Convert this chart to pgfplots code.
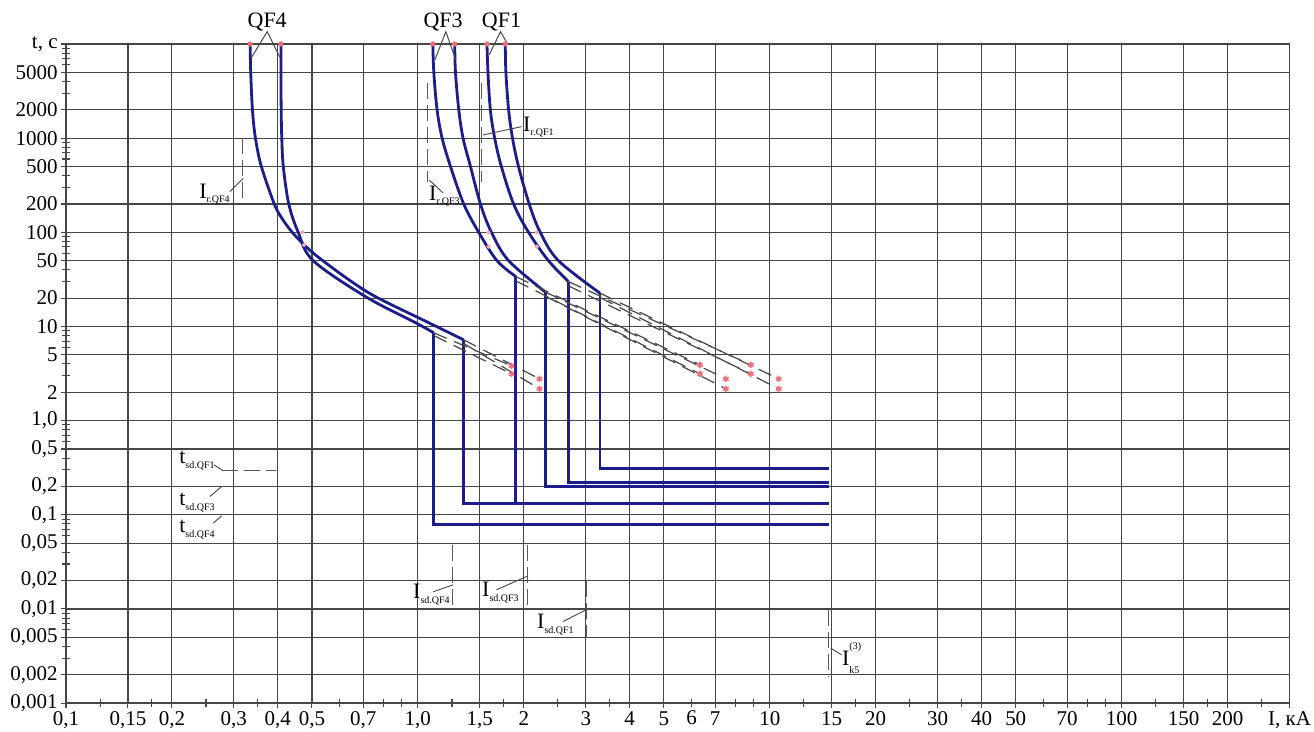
\documentclass[border=0pt]{standalone}
\usepackage{fontspec}
\setmainfont{Liberation Serif}
\usepackage{pgfplots}
\pgfplotsset{compat=1.18}
\definecolor{curve}{RGB}{28,28,138}
\definecolor{gridc}{RGB}{70,70,70}
\definecolor{dotc}{RGB}{238,110,125}
\newcommand\PX[2]{(rel axis cs:{(#1-66)/1224},{(703.3-#2)/659.3})}
\newcommand\sub[1]{\raisebox{-0.45ex}{\fontsize{5}{6}\selectfont #1}}
\begin{document}
\begin{tikzpicture}
\begin{axis}[
 xmode=log, ymode=log, scale only axis, width=612pt, height=329.65pt,
 xmin=0.1, xmax=300, ymin=0.001, ymax=10000,
 clip=false,
 axis line style={gridc, line width=0.65pt},
 grid=major,
 major grid style={gridc, line width=0.6pt},
 tick align=center, xtick pos=bottom, ytick pos=left,
 major tick length=5pt, minor tick length=4pt,
 every tick/.style={gridc, line width=0.55pt},
 xtick={0.1,0.15,0.2,0.3,0.4,0.5,0.7,1,1.5,2,3,4,5,7,10,15,20,30,40,50,70,100,150,200,300},
 xticklabels={{0,1},{0,15},{0,2},{0,3},{0,4},{0,5},{0,7},{1,0},{1,5},2,3,4,5,7,10,15,20,30,40,50,70,100,150,200,{I, кА}},
 extra x ticks={6}, extra x tick labels={6},
 extra x tick style={grid=none, major tick length=4pt},
 minor xtick={0.125,0.175,0.25,0.35,0.6,0.8,0.9,1.25,1.75,2.5,3.5,8,9,12.5,17.5,25,35,60,80,90,125,175,250},
 ytick={0.001,0.002,0.005,0.01,0.02,0.05,0.1,0.2,0.5,1,2,5,10,20,50,100,200,500,1000,2000,5000,10000},
 yticklabels={{0,001},{0,002},{0,005},{0,01},{0,02},{0,05},{0,1},{0,2},{0,5},{1,0},2,5,10,20,50,100,200,500,1000,2000,5000,{t, c}},
 minor ytick={0.003,0.004,0.006,0.007,0.008,0.009,0.03,0.04,0.06,0.07,0.08,0.09,0.3,0.4,0.6,0.7,0.8,0.9,3,4,6,7,8,9,30,40,60,70,80,90,300,400,600,700,800,900,3000,4000,6000,7000,8000,9000},
 ticklabel style={font=\fontsize{10.5}{12}\selectfont},
 yticklabel style={inner sep=1.5pt},
 xticklabel style={inner sep=1.5pt},
]
\pgfplotsset{cv/.style={curve, line width=1.4pt}, cvs/.style={curve, line width=1.4pt, smooth, tension=0.55}}
% ---- QF4 ----
\addplot[cvs] coordinates {(0.3337,10000) (0.3350,5000) (0.3388,2000) (0.3455,1000) (0.3592,500) (0.3909,200) (0.4119,138.8) (0.4396,100) (0.4753,73.5) (0.5243,53.5) (0.6376,31.24) (0.7603,20.6) (1.054,11.33) (1.350,7.205)};
\addplot[cv] coordinates {(1.350,7.205) (1.350,0.131) (14.76,0.131)};
\addplot[cvs] coordinates {(0.4083,10000) (0.4083,5000) (0.4089,2000) (0.4105,1000) (0.4146,500) (0.4297,200) (0.4571,100) (0.5041,50) (0.7124,20.6) (0.987,10.92) (1.110,8.551)};
\addplot[cv] coordinates {(1.110,8.551) (1.110,0.0783) (14.76,0.0783)};
% ---- QF3 ----
\addplot[cvs] coordinates {(1.103,10000) (1.110,5000) (1.134,2000) (1.172,1000) (1.238,500) (1.350,200) (1.489,100) (1.678,50) (1.899,33.86)};
\addplot[cv] coordinates {(1.899,33.86) (1.899,0.131) (14.76,0.131)};
\addplot[cvs] coordinates {(1.273,10000) (1.279,5000) (1.307,2000) (1.344,1000) (1.411,500) (1.506,200) (1.618,100) (1.811,50) (2.300,23.29)};
\addplot[cv] coordinates {(2.300,23.29) (2.300,0.2) (14.76,0.2)};
% ---- QF1 ----
\addplot[cvs] coordinates {(1.572,10000) (1.582,5000) (1.607,2000) (1.653,1000) (1.727,500) (1.871,200) (2.063,100) (2.350,50) (2.678,29.98)};
\addplot[cv] coordinates {(2.678,29.98) (2.678,0.222) (14.76,0.222)};
\addplot[cvs] coordinates {(1.772,10000) (1.779,5000) (1.811,2000) (1.858,1000) (1.932,500) (2.072,200) (2.227,100) (2.508,50) (3.293,22.57)};
\addplot[cv] coordinates {(3.293,22.57) (3.293,0.313) (14.76,0.313)};
% ---- dashed continuations ----
\pgfplotsset{dashx/.style={black!72, line width=0.6pt, dash pattern=on 7pt off 4pt}}
\addplot[dashx] coordinates {(1.110,8.551) (1.846,3.817)};
\addplot[dashx] coordinates {(1.110,8.0) (1.846,3.139)};
\addplot[dashx] coordinates {(1.350,7.205) (2.216,2.777)};
\addplot[dashx] coordinates {(1.350,6.6) (2.216,2.176)};
\addplot[dashx] coordinates {(1.899,33.86) (6.335,3.912)};
\addplot[dashx] coordinates {(1.899,30.5) (6.335,3.139)};
\addplot[dashx] coordinates {(2.300,23.29) (7.506,2.777)};
\addplot[dashx] coordinates {(2.300,21.0) (7.506,2.176)};
\addplot[dashx] coordinates {(2.678,29.98) (8.836,3.912)};
\addplot[dashx] coordinates {(2.678,27.0) (8.836,3.139)};
\addplot[dashx] coordinates {(3.293,22.57) (10.60,2.777)};
\addplot[dashx] coordinates {(3.293,20.3) (10.60,2.176)};
\addplot[only marks, mark=asterisk, mark size=1.6pt, dotc, line width=0.8pt] coordinates {(1.846,3.817) (1.846,3.139) (2.216,2.777) (2.216,2.176) (6.335,3.912) (6.335,3.139) (7.506,2.777) (7.506,2.176) (8.836,3.912) (8.836,3.139) (10.60,2.777) (10.60,2.176)};
\addplot[only marks, mark=*, mark size=1.1pt, dotc] coordinates {(0.3337,10000) (0.4083,10000) (1.103,10000) (1.273,10000) (1.572,10000) (1.772,10000)};
\addplot[only marks, mark=*, mark size=0.9pt, dotc!60] coordinates {(0.4693,100) (0.4753,73.5) (1.589,100) (1.589,70.5) (2.178,100) (2.178,70.5)};
% ---- reference dashed markers ----
\pgfplotsset{dashv/.style={black!65, line width=0.5pt, dash pattern=on 8pt off 3pt}}
\addplot[dashv] coordinates {(0.318,1000) (0.318,200)};
\addplot[dashv] coordinates {(1.062,3826) (1.062,345)};
\addplot[dashv] coordinates {(1.521,3826) (1.521,345)};
\addplot[dashv] coordinates {(1.251,0.048) (1.251,0.0098)};
\addplot[dashv] coordinates {(2.054,0.048) (2.054,0.0098)};
\addplot[dashv] coordinates {(3.006,0.0196) (3.006,0.0049)};
\addplot[dashv] coordinates {(14.69,0.0098) (14.69,0.00192)};
\addplot[dashv] coordinates {(0.2785,0.295) (0.396,0.295)};
% ---- annotations ----
\node[font=\fontsize{11}{13}\selectfont] at \PX{267.3}{21.7} {QF4};
\node[font=\fontsize{11}{13}\selectfont] at \PX{443.3}{21.7} {QF3};
\node[font=\fontsize{11}{13}\selectfont] at \PX{501.7}{21.7} {QF1};
\draw[gridc, line width=0.5pt] \PX{251.7}{57.3} -- \PX{267.3}{31.7} -- \PX{280}{57.3};
\draw[gridc, line width=0.5pt] \PX{435}{60} -- \PX{446}{31.7} -- \PX{456}{60};
\draw[gridc, line width=0.5pt] \PX{489.3}{55} -- \PX{500.7}{31.7} -- \PX{508.3}{45};
\begin{scope}[every node/.style={anchor=west, inner sep=0pt, font=\fontsize{11}{12}\selectfont}]
\node at \PX{199}{194} {I\sub{r.QF4}};
\node at \PX{429}{196} {I\sub{r.QF3}};
\node at \PX{523}{127} {I\sub{r.QF1}};
\node at \PX{179}{461} {t\sub{sd.QF1}};
\node at \PX{179}{503} {t\sub{sd.QF3}};
\node at \PX{179}{530} {t\sub{sd.QF4}};
\node at \PX{413}{595} {I\sub{sd.QF4}};
\node at \PX{482}{593} {I\sub{sd.QF3}};
\node at \PX{537}{625} {I\sub{sd.QF1}};
\node at \PX{842}{658} {I\makebox[0pt][l]{\raisebox{1.55ex}{\fontsize{5}{5}\selectfont(3)}}\raisebox{-0.8ex}{\fontsize{5}{5}\selectfont k5}};
\end{scope}
\begin{scope}[gridc, line width=0.45pt]
\draw \PX{230}{191.7} -- \PX{243.3}{178.3};
\draw \PX{429.3}{180} -- \PX{443.3}{193};
\draw \PX{483.3}{135} -- \PX{521.7}{126.7};
\draw \PX{214}{465} -- \PX{223}{470.7};
\draw \PX{210}{496.7} -- \PX{221.7}{486.7};
\draw \PX{213.3}{523.3} -- \PX{221.7}{516};
\draw \PX{433.3}{592} -- \PX{453.3}{585};
\draw \PX{496.7}{590} -- \PX{528.3}{576};
\draw \PX{563.3}{621.7} -- \PX{587.7}{609.3};
\draw \PX{831}{648.3} -- \PX{841.7}{655};
\end{scope}
\path \PX{0}{0} rectangle \PX{1314}{729};
\end{axis}
\end{tikzpicture}
\end{document}
